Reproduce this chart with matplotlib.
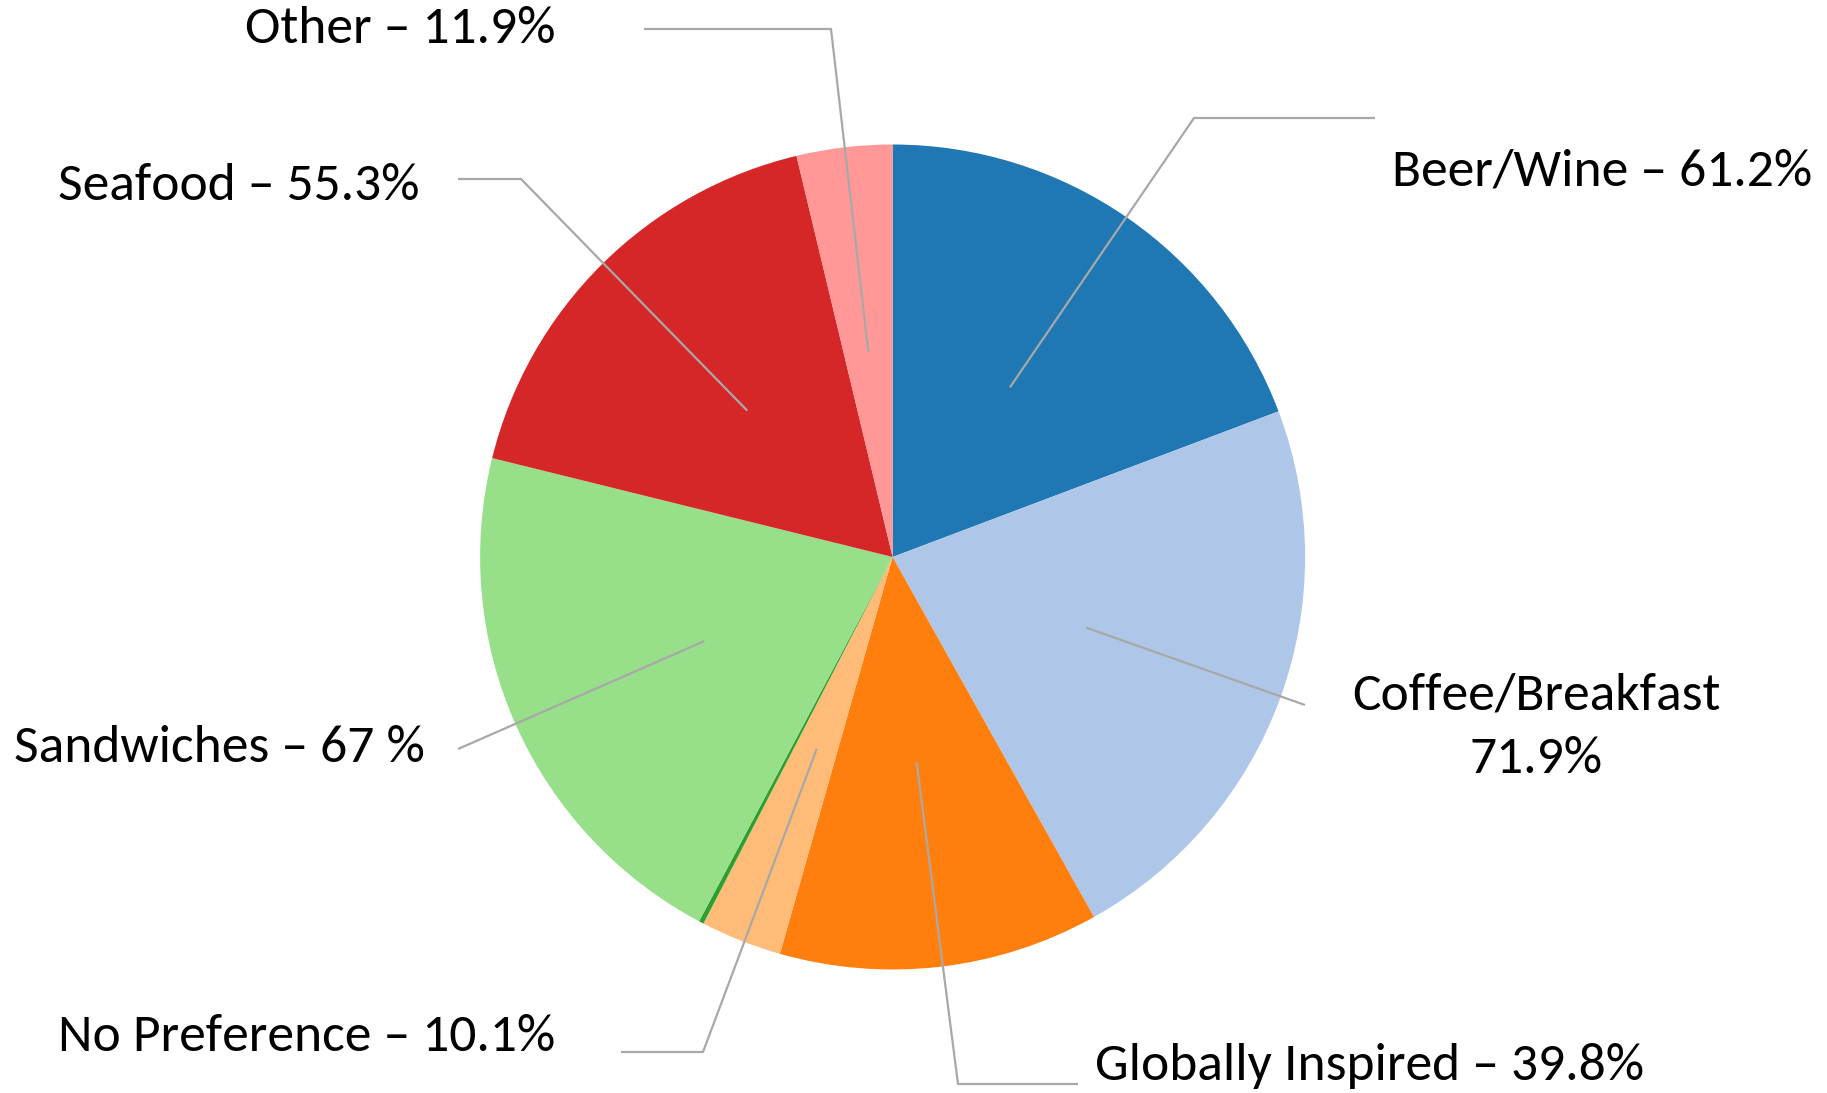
import numpy as np
import matplotlib
matplotlib.use("Agg")
import matplotlib.pyplot as plt
from matplotlib import font_manager

# ---- data ----
categories = ["Beer/Wine", "Coffee/Breakfast", "Globally Inspired", "No Preference",
              "", "Sandwiches", "Seafood", "Other"]
values = [61.2, 71.9, 39.8, 10.1, 0.6, 67.0, 55.3, 11.9]
label_texts = ["Beer/Wine – 61.2%", "Coffee/Breakfast\n71.9%", "Globally Inspired – 39.8%",
               "No Preference – 10.1%", "", "Sandwiches – 67 %", "Seafood – 55.3%",
               "Other – 11.9%"]
colors = ["#1f77b4", "#aec7e8", "#ff7f0e", "#ffbb78", "#2ca02c", "#98df8a", "#d62728", "#ff9896"]

# ---- font ----
def pick(fams):
    for f in fams:
        try:
            font_manager.findfont(font_manager.FontProperties(family=f), fallback_to_default=False)
            return f
        except Exception:
            pass
    return "DejaVu Sans"
FONT = pick(["Carlito", "Lato", "Open Sans", "DejaVu Sans"])

W, H = 1827, 1093
fig = plt.figure(figsize=(W / 100, H / 100), dpi=100)
ax = fig.add_axes([0, 0, 1, 1])

cx, cy, R = 892.6, H - 557, 412.5
wedges, _ = ax.pie(values, colors=colors, startangle=90, counterclock=False,
                   center=(cx, cy), radius=R, frame=True,
                   wedgeprops=dict(linewidth=0))
ax.set_xlim(0, W)
ax.set_ylim(0, H)
ax.set_aspect("equal")
ax.axis("off")

# layout (image pixel coords, y downward): knee points, line ends, text anchors
knees = [(1194, 118), None, (958, 1084), (703, 1052), None, None, (521, 179), (831, 29)]
ends = [(1375, 118), (1305, 705), (1078, 1084), (621, 1052), None, (458, 749), (458, 179), (644, 29)]
text_pos = [(1392, 171, "left"), (1536, 727, "center"), (1095, 1066, "left"),
            (58, 1037, "left"), None, (14, 748, "left"), (58, 186, "left"), (245, 29, "left")]

for i, w in enumerate(wedges):
    if not label_texts[i]:
        continue
    ang = np.deg2rad((w.theta1 + w.theta2) / 2)
    sx, sy = cx + 0.5 * R * np.cos(ang), cy + 0.5 * R * np.sin(ang)
    pts = [(sx, sy)]
    if knees[i] is not None:
        pts.append((knees[i][0], H - knees[i][1]))
    pts.append((ends[i][0], H - ends[i][1]))
    xs, ys = zip(*pts)
    ax.plot(xs, ys, color="#a8a8a8", lw=1.6, solid_capstyle="butt", zorder=3)
    tx, ty, ha = text_pos[i]
    ax.text(tx, H - ty, label_texts[i], ha=ha, va="center", fontsize=38.5,
            family=FONT, color="black", multialignment="center", linespacing=1.47)

fig.savefig("out.png", dpi=100)
